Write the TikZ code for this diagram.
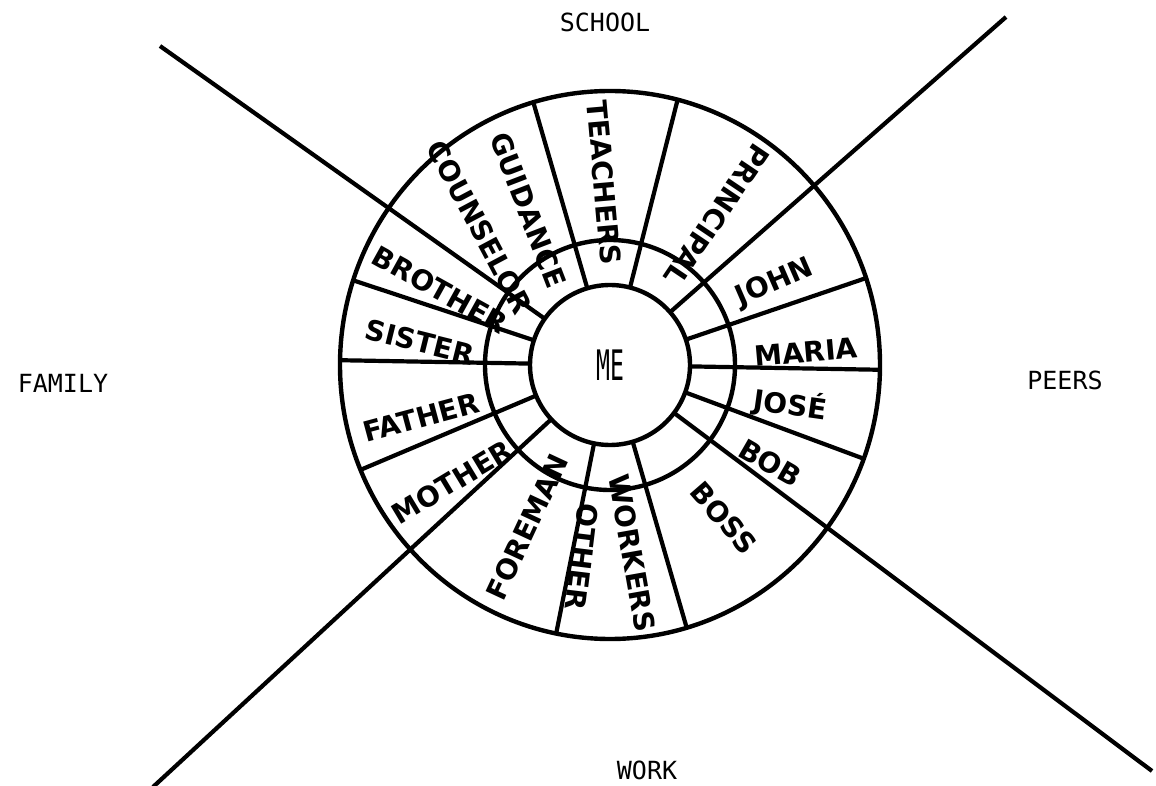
\documentclass[tikz,border=0pt]{standalone}
\usepackage{fontspec}
\usepackage{graphicx}
\usetikzlibrary{calc}
\newfontfamily\handfont{DejaVu Sans}
\newfontfamily\typefont{DejaVu Sans Mono}
\definecolor{ink}{HTML}{000000}
\definecolor{paper}{HTML}{FFFFFF}
\tikzset{
  ring/.style={draw=ink,line width=4.4pt},
  spoke/.style={draw=ink,line width=4.2pt},
  hub/.style={circle,draw=ink,fill=paper,line width=4.4pt,minimum size=160pt,
              inner sep=0pt,font=\typefont\fontsize{42}{42}\selectfont},
  hand/.style={inner sep=0pt,text=ink,
               font=\handfont\bfseries\fontsize{28}{28}\selectfont},
  area/.style={inner sep=0pt,text=ink,
               font=\typefont\fontsize{25}{25}\selectfont}
}

\begin{document}
\begin{tikzpicture}[x=1pt,y=1pt]
    \path[use as bounding box,fill=paper] (0,0) rectangle (1156,785);

    % centre of the wheel and far ends of the cross
    \coordinate (me) at (610,420);
    \coordinate (nw) at (160,739);
    \coordinate (ne) at (1006,768);
    \coordinate (sw) at (153,-2);
    \coordinate (se) at (1152,14);

    % cross lines
    \foreach \corner in {nw,ne,sw,se}
      \draw[spoke] ($(me)!79pt!(\corner)$) -- (\corner);

    % rings and spokes
    \begin{scope}[shift={(me)}]
      \draw[ring] (0,0) ellipse [x radius=270,y radius=274];
      \draw[ring] (0,0) circle [radius=125];
      \foreach \ang in {106.5,75.5,18.5,-1,-20,-73.5,-101.5,202.5,179,162}
        \draw[spoke] (\ang:79) -- (\ang:270 and 274);
    \end{scope}

    \node[hub] (hub) at (me) {\scalebox{0.55}[1]{ME}};

    % areas
    \node[area] (school) at (605,763) {SCHOOL};
    \node[area] (family) at (63,402) {FAMILY};
    \node[area] (peers) at (1065,405) {PEERS};
    \node[area] (work) at (647,15) {WORK};

    % school
    \node[hand,rotate=-69] (guidance) at (528,575) {GUIDANCE};
    \node[hand,rotate=-62] (counselor) at (480,558) {COUNSELOR};
    \node[hand,rotate=-85] (teachers) at (604,602) {TEACHERS};
    \node[hand,rotate=-124] (principal) at (717,570) {PRINCIPAL};
    % peers
    \node[hand,rotate=23.5] (john) at (775,502) {JOHN};
    \node[hand,rotate=5] (maria) at (806,433) {MARIA};
    \node[hand,rotate=-8] (jose) at (790,380) {JOSÉ};
    \node[hand,rotate=-30] (bob) at (770,322) {BOB};
    % work
    \node[hand,rotate=-49] (boss) at (724,267) {BOSS};
    \node[hand,rotate=-97] (other) at (582,228) {OTHER};
    \node[hand,rotate=-80] (workers) at (632,232) {WORKERS};
    \node[hand,rotate=65] (foreman) at (527,258) {FOREMAN};
    % family
    \node[hand,rotate=31] (mother) at (452,303) {MOTHER};
    \node[hand,rotate=15] (father) at (421,368) {FATHER};
    \node[hand,rotate=-14] (sister) at (420,443) {SISTER};
    \node[hand,rotate=-29] (brother) at (440,495) {BROTHER};
  \end{tikzpicture}
\end{document}
